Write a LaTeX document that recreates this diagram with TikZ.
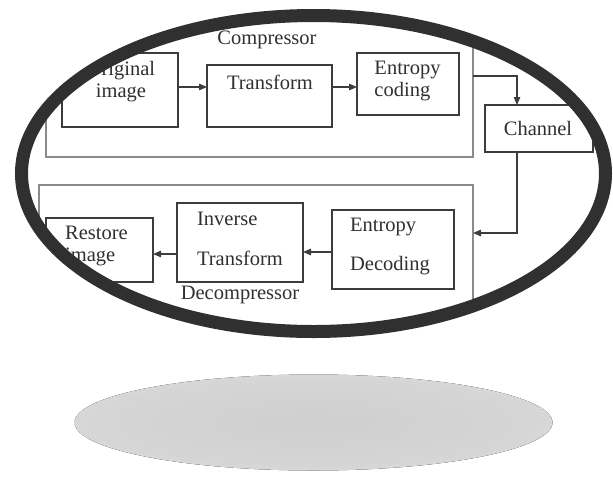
\documentclass[tikz,border=0pt]{standalone}
\usepackage{fontspec}
\setmainfont{Liberation Serif}
\usetikzlibrary{arrows.meta}
\definecolor{inkc}{HTML}{303030}
\definecolor{boxc}{HTML}{3C3C3C}
\definecolor{outc}{HTML}{8A8A8A}
\definecolor{rimc}{HTML}{303030}
\pgfdeclareradialshading{shadowfade}{\pgfpoint{0bp}{0bp}}{color(0bp)=(gray!38); color(22bp)=(gray!33); color(36bp)=(gray!24); color(45bp)=(gray!10); color(50bp)=(white)}
\tikzset{
  blockbox/.style={draw=boxc, line width=1.4pt, inner sep=0pt, outer sep=0pt},
  groupbox/.style={draw=outc, line width=1.1pt, inner sep=0pt, outer sep=0pt},
  lbl/.style={text=inkc, font=\fontsize{20.5}{22}\selectfont, inner sep=0pt, align=left},
  clbl/.style={text=inkc, font=\fontsize{20.5}{22}\selectfont, inner sep=0pt, align=center},
  arr/.style={draw=boxc, line width=1.2pt, -{Triangle[length=8pt,width=6.5pt]}},
}
\begin{document}
\begin{tikzpicture}[x=1pt,y=-1pt]
\useasboundingbox (0,0) rectangle (613,480);
% shadow below
\fill[shading=shadowfade] (313.5,422.5) ellipse [x radius=239pt, y radius=48pt];
\begin{scope}
\clip (313.5,173.5) ellipse [x radius=292pt, y radius=158pt];
% group boxes
\node[groupbox, minimum width=427pt, minimum height=142pt] (comp) at (259.5,86) {};
\node[groupbox, minimum width=434pt, minimum height=165pt] (decomp) at (256,267.5) {};
\node[clbl] (comptxt) at (267,40) {Compressor};
\node[clbl] (decomptxt) at (240,295) {Decompressor};
% compressor blocks
\node[blockbox, fill=white, minimum width=116pt, minimum height=74pt] (orig) at (120,90) {};
\node[clbl] (origtxt) at (121,81.5) {Original\\image};
\node[blockbox, fill=white, minimum width=125pt, minimum height=62pt] (trans) at (269.5,96) {};
\node[clbl] (transtxt) at (270,82) {Transform};
\node[blockbox, fill=white, minimum width=102pt, minimum height=62pt] (enc) at (408,84) {};
\node[lbl] (enctxt) at (407.5,81) {Entropy\\coding};
% channel
\node[blockbox, fill=white, minimum width=108pt, minimum height=47pt] (chan) at (539,128.5) {};
\node[clbl] (chantxt) at (538,128) {Channel};
% decompressor blocks
\node[blockbox, fill=white, minimum width=122pt, minimum height=79pt] (dec) at (393,249.5) {};
\node[lbl] (dectxt) at (390,246.5) {Entropy\\[17pt]Decoding};
\node[blockbox, fill=white, minimum width=126pt, minimum height=79pt] (itrans) at (240,242.5) {};
\node[lbl] (itranstxt) at (240,239) {Inverse\\[18pt]Transform};
\node[blockbox, fill=white, minimum width=107pt, minimum height=64pt] (rest) at (99.5,250) {};
\node[lbl] (resttxt) at (96.5,246) {Restore\\image};
% connectors
\draw[arr] (orig.east |- 0,87) -- (trans.west |- 0,87);
\draw[arr] (trans.east |- 0,87) -- (enc.west |- 0,87);
\draw[arr] (comp.east |- 0,76) -| (chan.north -| 517,0);
\draw[arr] (chan.south -| 517,0) |- (decomp.east |- 0,233);
\draw[arr] (dec.west |- 0,252) -- (itrans.east |- 0,252);
\draw[arr] (itrans.west |- 0,254) -- (rest.east |- 0,254);
\end{scope}
% rim
\draw[rimc, line width=13pt] (313.5,173.5) ellipse [x radius=292pt, y radius=158pt];
\end{tikzpicture}
\end{document}
